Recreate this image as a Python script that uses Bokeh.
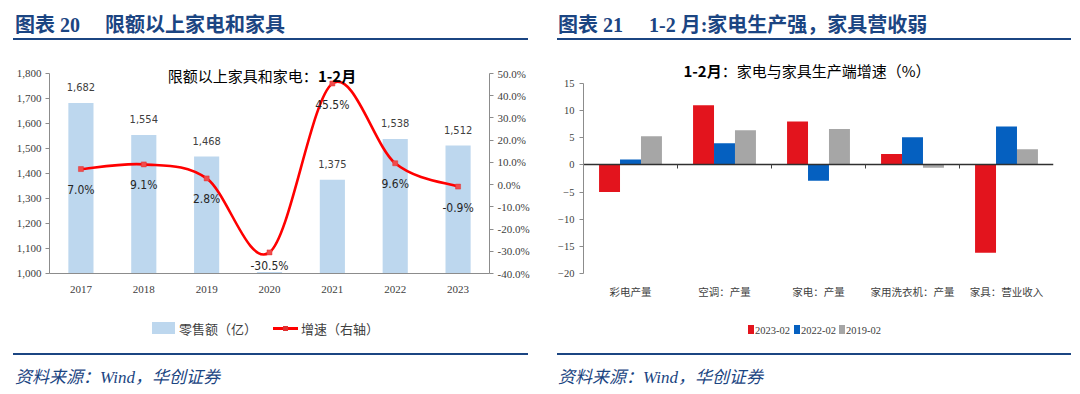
from bokeh.plotting import figure
from bokeh.layouts import row
from bokeh.models import (Range1d, LinearAxis, FixedTicker, SingleIntervalTicker, Div,
                          PrintfTickFormatter, NumeralTickFormatter, ColumnDataSource, LabelSet)
from bokeh.transform import dodge
from bokeh.core.properties import value
from bokeh.embed import file_html
from bokeh.resources import INLINE

# ---------------- data ----------------
years = ["2017", "2018", "2019", "2020", "2021", "2022", "2023"]
retail = [1682, 1554, 1468, 1006, 1375, 1538, 1512]          # 零售额（亿）
retail_labels = ["1,682", "1,554", "1,468", "", "1,375", "1,538", "1,512"]
growth = [7.0, 9.1, 2.8, -30.5, 45.5, 9.6, -0.9]              # 增速（右轴） %

cats = ["彩电产量", "空调：产量", "家电：产量", "家用洗衣机：产量", "家具：营业收入"]
s2023 = [-5.0, 11.0, 8.0, 2.0, -16.2]
s2022 = [1.0, 4.0, -2.9, 5.1, 7.1]
s2019 = [5.3, 6.4, 6.6, -0.5, 2.9]
series_names = ["2023-02", "2022-02", "2019-02"]

# ---------------- style ----------------
NAVY = "#1B4582"
CJK = "Noto Sans CJK SC"
SERIF = "Liberation Serif"
NARROW = "Liberation Sans Narrow, DejaVu Sans Condensed, Liberation Sans"
CSS_SERIF = "'Liberation Serif','Noto Sans CJK SC',serif"
CSS_SANS = "'Noto Sans CJK SC',sans-serif"
TOP, BOTTOM, FIG_H = 73, 273, 350          # common frame top / bottom, figure height (px)
BAR_BLUE = "#BDD7EE"
LINE_RED = "#FF0000"
colors = ["#E3141D", "#0560C0", "#A6A6A6"]


def cat_axes(p, labels, tick_pos, loc, label_font, label_size, standoff, line_color, tick_color):
    centers = [i + 0.5 for i in range(len(labels))]
    xa = p.xaxis[0]
    xa.ticker = FixedTicker(ticks=centers)
    xa.major_label_overrides = {c: lab for c, lab in zip(centers, labels)}
    xa.axis_line_color = line_color
    xa.major_tick_line_color = None
    xa.major_tick_out = 0
    xa.major_tick_in = 0
    xa.minor_tick_line_color = None
    xa.major_label_text_font = label_font
    xa.major_label_text_font_size = label_size
    xa.major_label_text_color = "#404040"
    xa.major_label_standoff = standoff
    tick_ax = LinearAxis(ticker=FixedTicker(ticks=tick_pos), fixed_location=loc,
                         axis_line_color=None, major_tick_line_color=tick_color,
                         major_tick_in=0, major_tick_out=5, minor_tick_line_color=None,
                         major_label_text_color=None, major_label_text_font_size="1px")
    p.add_layout(tick_ax, "below")
    return tick_ax


def style_y(ax, size):
    ax.axis_line_color = "#8C8C8C"
    ax.major_tick_line_color = "#8C8C8C"
    ax.major_tick_in = 0
    ax.major_tick_out = 4
    ax.minor_tick_line_color = None
    ax.major_label_text_font = SERIF
    ax.major_label_text_font_size = size
    ax.major_label_text_color = "#404040"
    ax.major_label_standoff = 4


# ================= left chart =================
n = len(years)
p1 = figure(width=540, height=FIG_H, x_range=Range1d(0, n), y_range=Range1d(1000, 1800),
            output_backend="svg", toolbar_location=None,
            min_border_left=49, min_border_right=51, min_border_top=TOP,
            min_border_bottom=FIG_H - BOTTOM)
p1.outline_line_color = None
p1.grid.visible = False
p1.extra_y_ranges = {"pct": Range1d(-40, 50)}

xs = [i + 0.5 for i in range(n)]
src1 = ColumnDataSource(dict(x=xs, retail=retail, rlab=retail_labels, growth=growth))

p1.vbar(x="x", top="retail", bottom=0, width=0.4, source=src1, fill_color=BAR_BLUE, line_color=None)

# smooth growth curve (cubic Bezier, Catmull-Rom control points)
bz = dict(x0=[], y0=[], x1=[], y1=[], cx0=[], cy0=[], cx1=[], cy1=[])
for i in range(n - 1):
    pm, pp = max(i - 1, 0), min(i + 2, n - 1)
    bz["x0"].append(xs[i]); bz["y0"].append(growth[i])
    bz["x1"].append(xs[i + 1]); bz["y1"].append(growth[i + 1])
    bz["cx0"].append(xs[i] + (xs[i + 1] - xs[pm]) / 6)
    bz["cy0"].append(growth[i] + (growth[i + 1] - growth[pm]) / 6)
    bz["cx1"].append(xs[i + 1] - (xs[pp] - xs[i]) / 6)
    bz["cy1"].append(growth[i + 1] - (growth[pp] - growth[i]) / 6)
p1.bezier(x0="x0", y0="y0", x1="x1", y1="y1", cx0="cx0", cy0="cy0", cx1="cx1", cy1="cy1",
          source=ColumnDataSource(bz), y_range_name="pct", line_color=LINE_RED, line_width=2.6)
p1.scatter(x="x", y="growth", source=src1, y_range_name="pct", marker="square", size=5,
           fill_color="#F24B4B", line_color="#E03030", line_width=0.5)

p1.add_layout(LabelSet(x="x", y="retail", text="rlab", source=src1, y_offset=16,
                       text_align="center", text_baseline="middle", text_font=value(NARROW),
                       text_font_size="11px", text_color="#404040"))
hi = [i for i, g in enumerate(growth) if g > -20]
lo = [i for i, g in enumerate(growth) if g <= -20]
for idx, off in ((hi, -21), (lo, -14)):
    s = ColumnDataSource(dict(x=[xs[i] for i in idx], growth=[growth[i] for i in idx],
                              glab=[f"{growth[i]:.1f}%" for i in idx]))
    p1.add_layout(LabelSet(x="x", y="growth", text="glab", source=s, y_range_name="pct",
                           y_offset=off, text_align="center", text_baseline="middle",
                           text_font=value(NARROW), text_font_size="12px", text_color="#262626"))

cat_axes(p1, years, list(range(n + 1)), 1000, SERIF, "11px", 12, "#8C8C8C", "#8C8C8C")

ya = p1.yaxis[0]
ya.ticker = SingleIntervalTicker(interval=100)
ya.formatter = NumeralTickFormatter(format="0,0")
style_y(ya, "11px")

ra = LinearAxis(y_range_name="pct", ticker=SingleIntervalTicker(interval=10),
                formatter=PrintfTickFormatter(format="%.1f%%"))
style_y(ra, "11px")
p1.add_layout(ra, "right")

# ================= right chart =================
m = len(cats)
Y0, Y1 = -20, 15
pad = (Y1 - Y0) * 10 / (BOTTOM - TOP - 10)      # 10 px of empty space above the "15" tick
p2 = figure(width=532, height=FIG_H, x_range=Range1d(0, m), y_range=Range1d(Y0, Y1 + pad),
            output_backend="svg", toolbar_location=None,
            min_border_left=43, min_border_right=19, min_border_top=TOP,
            min_border_bottom=FIG_H - BOTTOM)
p2.outline_line_color = None
p2.grid.visible = False

src2 = ColumnDataSource(dict(x=[i + 0.5 for i in range(m)], a=s2023, b=s2022, c=s2019))
bw = 0.223
for col, off, colr in (("a", -bw, colors[0]), ("b", 0.0, colors[1]), ("c", bw, colors[2])):
    p2.vbar(x=dodge("x", off), top=col, bottom=0, width=bw, source=src2, fill_color=colr,
            line_color=None)

zero_ax = cat_axes(p2, cats, list(range(1, m)), 0, CJK, "10.5px", 10, None, "#404040")
zero_ax.axis_line_color = "#303030"
zero_ax.axis_line_width = 1.4
zero_ax.major_tick_out = 4

ya2 = p2.yaxis[0]
ya2.ticker = SingleIntervalTicker(interval=5)
ya2.bounds = (Y0, Y1)
style_y(ya2, "10.5px")
ya2.major_label_standoff = 5


# ================= page furniture (headers, rules, chart titles, legends, source) =================
def txt(x, y, s, font, extra="", center=False):
    tr = "translate(-50%,-50%)" if center else "translateY(-50%)"
    return (f'<div style="position:absolute;left:{x}px;top:{y}px;transform:{tr};line-height:1.2;'
            f'white-space:nowrap;font:{font};{extra}">{s}</div>')


def box(x0, x1, y0, y1, color):
    return (f'<div style="position:absolute;left:{x0}px;top:{y0}px;width:{x1 - x0}px;'
            f'height:{y1 - y0}px;background:{color};"></div>')


def rule(x0, x1, y):
    return box(x0, x1, y - 1.2, y + 1.2, NAVY)


HEAD = f"bold 20px {CSS_SERIF}"
SRC = f"italic 17px {CSS_SERIF}"
LEG1 = f"13px {CSS_SANS}"
LEG2 = f"10.5px {CSS_SERIF}"
parts = [
    txt(15, 23, "图表 20", HEAD, f"color:{NAVY}"),
    txt(105, 23, "限额以上家电和家具", HEAD, f"color:{NAVY}"),
    txt(558, 23, "图表 21", HEAD, f"color:{NAVY}"),
    txt(649, 23, "1-2 月:家电生产强，家具营收弱", HEAD, f"color:{NAVY}"),
    rule(13, 528, 38.7), rule(557, 1071, 38.7),
    rule(13, 528, 353.7), rule(557, 1071, 353.7),
    txt(15, 375, "资料来源：Wind，华创证券", SRC, f"color:{NAVY}"),
    txt(558, 375, "资料来源：Wind，华创证券", SRC, f"color:{NAVY}"),
    txt(262, 75, "限额以上家具和家电：<b>1-2月</b>", f"15px {CSS_SANS}", "color:#000", center=True),
    txt(807, 70, "<b>1-2月</b>：家电与家具生产端增速（%）", f"15px {CSS_SANS}", "color:#000", center=True),
    # legend, left chart
    box(152, 175, 322, 334, BAR_BLUE),
    txt(179, 328, "零售额（亿）", LEG1, "color:#404040"),
    box(273, 298, 326.5, 329.5, LINE_RED),
    box(283, 288, 325.5, 330.5, "#E03030"),
    txt(301, 328, "增速（右轴）", LEG1, "color:#404040"),
    # legend, right chart
    box(748, 754, 325, 334, colors[0]),
    txt(755, 329.5, series_names[0], LEG2, "color:#404040"),
    box(794, 800, 325, 334, colors[1]),
    txt(801, 329.5, series_names[1], LEG2, "color:#404040"),
    box(839, 845, 325, 334, colors[2]),
    txt(846, 329.5, series_names[2], LEG2, "color:#404040"),
]
overlay = Div(text='<div style="position:relative;width:1075px;height:390px;">' + "".join(parts) + "</div>",
              width=1075, height=390, margin=0,
              styles={"position": "absolute", "left": "0px", "top": "0px", "z-index": "5",
                      "pointer-events": "none"})

layout = row(p1, p2, spacing=0)
open("out.html", "w").write(file_html([layout, overlay], INLINE))
